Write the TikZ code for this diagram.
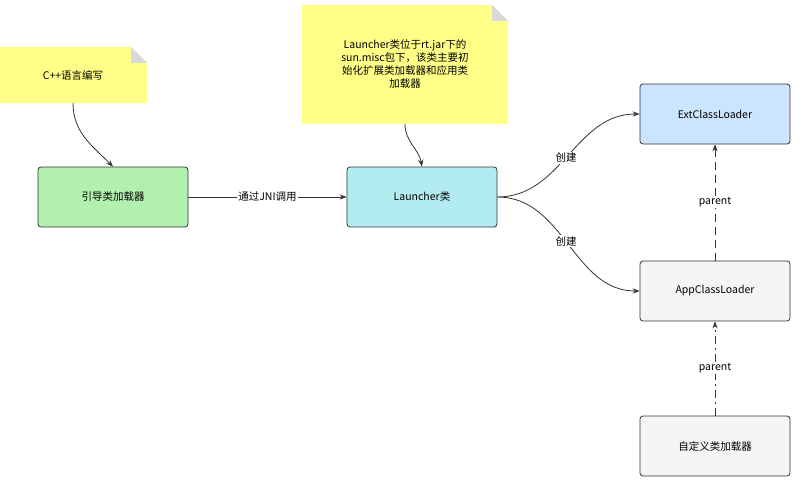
\documentclass[tikz,border=0pt]{standalone}
\usepackage{fontspec}
\setmainfont{Noto Sans CJK SC}
\usetikzlibrary{positioning, shapes.misc, arrows.meta}
\definecolor{noteyellow}{HTML}{FFFF88}
\definecolor{bootgreen}{HTML}{B3F0B0}
\definecolor{launchcyan}{HTML}{B3ECF0}
\definecolor{extblue}{HTML}{CCE5FF}
\definecolor{appgray}{HTML}{F5F5F5}
\tikzset{
  loader/.style={draw=black!80, thick, rounded corners=3pt, minimum width=150pt, minimum height=60pt, font=\fontsize{10.5pt}{12pt}\selectfont, align=center},
  note/.style={fill=noteyellow, draw=none, font=\fontsize{10.5pt}{13pt}\selectfont, align=center},
  link/.style={-{Stealth[length=7pt]}, thick, draw=black!80},
  lbl/.style={fill=white, font=\fontsize{10.5pt}{12pt}\selectfont, inner sep=1pt}
}
\begin{document}
\begin{tikzpicture}[x=1pt, y=-1pt]
   \useasboundingbox (0,0) rectangle (801,487);
   % notes with folded corner
   \fill[noteyellow] (0,47) -- (131,47) -- (147,63) -- (147,103) -- (0,103) -- cycle;
   \fill[black!15] (131,47) -- (131,63) -- (147,63) -- cycle;
   \node[note] (cpp) at (73,75) {C++语言编写};
   \fill[noteyellow] (302,5) -- (492,5) -- (508,21) -- (508,124) -- (302,124) -- cycle;
   \fill[black!15] (492,5) -- (492,21) -- (508,21) -- cycle;
   \node[note] (lnote) at (405,64) {Launcher类位于rt.jar下的\\sun.misc包下，该类主要初\\始化扩展类加载器和应用类\\加载器};
   % loaders
   \node[loader, fill=bootgreen] (boot) at (113,197) {引导类加载器};
   \node[loader, fill=launchcyan] (launcher) at (422,197) {Launcher类};
   \node[loader, fill=extblue] (ext) at (715,114) {ExtClassLoader};
   \node[loader, fill=appgray] (app) at (715,291) {AppClassLoader};
   \node[loader, fill=appgray] (custom) at (715,446) {自定义类加载器};
   % connectors
   \draw[link] (73,103) to[out=-90, in=135] (boot.north);
   \draw[link] (405,124) to[out=-90, in=100] (launcher.north);
   \draw[link] (boot) -- node[lbl] {通过JNI调用} (launcher);
   \draw[link] (launcher.east) to[out=0, in=180] node[lbl, pos=0.48] {创建} (ext.west);
   \draw[link] (launcher.east) to[out=0, in=180] node[lbl, pos=0.48] {创建} (app.west);
   \draw[link, dash pattern=on 8pt off 5pt] (app) -- node[lbl] {parent} (ext);
   \draw[link, dash pattern=on 8pt off 4pt on 2pt off 4pt] (custom) -- node[lbl] {parent} (app);
\end{tikzpicture}
\end{document}
